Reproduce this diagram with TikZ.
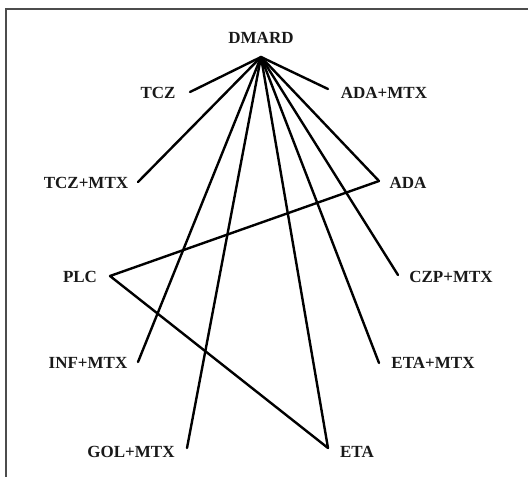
\documentclass[tikz,border=0pt]{standalone}
\usepackage{fontspec}
\setmainfont{Liberation Serif}
\begin{document}
\begin{tikzpicture}[x=1pt,y=-1pt,
  lbl/.style={font=\fontsize{17}{17}\selectfont\bfseries, inner sep=0pt, text=black!90},
  edge/.style={line width=2.4pt, black, line cap=round, line join=round},
  frame/.style={line width=2pt, black!70}]
\useasboundingbox (0,0) rectangle (528,477);
\draw[frame] (6,477) -- (6,8.5) -- (528,8.5);
% labels
\node[lbl] (dmard) at (261,38) {DMARD};
\node[lbl] (tcz) at (158,93) {TCZ};
\node[lbl] (adamtx) at (384,93) {ADA+MTX};
\node[lbl] (tczmtx) at (86,183) {TCZ+MTX};
\node[lbl] (ada) at (408,183) {ADA};
\node[lbl] (plc) at (80,277) {PLC};
\node[lbl] (czpmtx) at (451,277) {CZP+MTX};
\node[lbl] (infmtx) at (88,363) {INF+MTX};
\node[lbl] (etamtx) at (433,363) {ETA+MTX};
\node[lbl] (golmtx) at (131,452) {GOL+MTX};
\node[lbl] (eta) at (357,452) {ETA};
% endpoints
\coordinate (hub) at (261,57);
\coordinate (pTCZ) at (190,92);
\coordinate (pADAMTX) at (328,89);
\coordinate (pTCZMTX) at (138,182);
\coordinate (pADA) at (379,181);
\coordinate (pPLC) at (110,276);
\coordinate (pCZPMTX) at (398,275);
\coordinate (pINFMTX) at (138,362);
\coordinate (pETAMTX) at (379,363);
\coordinate (pGOLMTX) at (187,448);
\coordinate (pETA) at (328,448);
% edges
\foreach \t in {pTCZ,pADAMTX,pTCZMTX,pADA,pCZPMTX,pINFMTX,pETAMTX,pGOLMTX,pETA}
  \draw[edge] (hub) -- (\t);
\draw[edge] (pADA) -- (pPLC) -- (pETA);
\end{tikzpicture}
\end{document}
